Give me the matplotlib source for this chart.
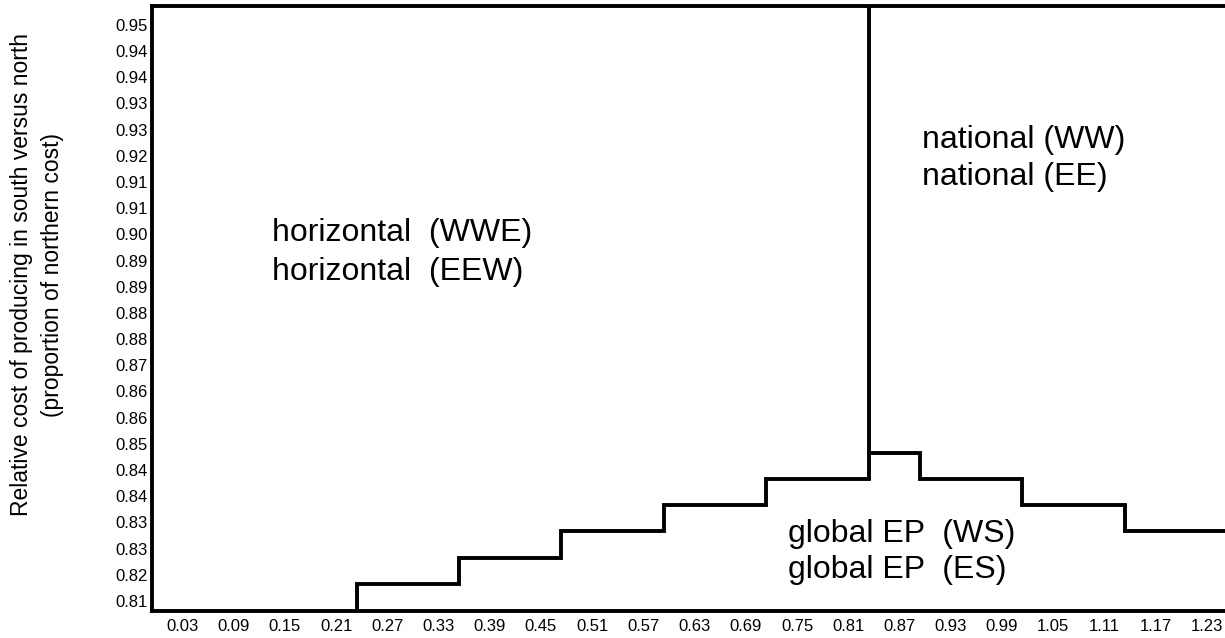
import numpy as np
import matplotlib
matplotlib.use('Agg')
import matplotlib.pyplot as plt

plt.rcParams['font.family'] = ['Liberation Sans', 'DejaVu Sans']

# x axis: category centres
x_ticks = [0.03, 0.09, 0.15, 0.21, 0.27, 0.33, 0.39, 0.45, 0.51, 0.57, 0.63,
           0.69, 0.75, 0.81, 0.87, 0.93, 0.99, 1.05, 1.11, 1.17, 1.23]

# y axis: labels as printed (rounded to 2 dp)
y_ticks = np.linspace(0.8125, 0.95, 23)
y_labels = ['0.81', '0.82', '0.83', '0.83', '0.84', '0.84', '0.85', '0.86',
            '0.86', '0.87', '0.88', '0.88', '0.89', '0.89', '0.90', '0.91',
            '0.91', '0.92', '0.93', '0.93', '0.94', '0.94', '0.95']

# boundary between global EP region and the others
step_edges = [0.234, 0.354, 0.474, 0.594, 0.714, 0.834, 0.894, 1.014, 1.134, 1.26]
step_levels = [0.8166, 0.8228, 0.8291, 0.8353, 0.8416, 0.8479, 0.8416, 0.8353, 0.8291]

# boundary between horizontal and national
national_x = 0.834
national_from = 0.8479

fig = plt.figure(figsize=(12.25, 6.38), dpi=100)
ax = fig.add_axes([0.1241, 0.0428, 0.8759, 0.9478])

ax.set_xlim(-0.0057, 1.2514)
ax.set_ylim(0.81018, 0.9545)
ymin, ymax = ax.get_ylim()

ax.stairs(step_levels, step_edges, baseline=ymin, color='black', linewidth=2.8)
ax.plot([national_x, national_x], [national_from, ymax], color='black', linewidth=2.8,
        solid_capstyle='butt')

ax.set_xticks(x_ticks)
ax.set_xticklabels(['%.2f' % v for v in x_ticks])
ax.set_yticks(y_ticks)
ax.set_yticklabels(y_labels)
ax.tick_params(axis='both', length=0, labelsize=12)
ax.tick_params(axis='x', pad=6)
ax.tick_params(axis='y', pad=3)

for side in ['left', 'bottom', 'top']:
    ax.spines[side].set_linewidth(2.8)
ax.spines['right'].set_visible(False)

ax.text(0.1118, 0.593, 'horizontal  (WWE)\nhorizontal  (EEW)', transform=ax.transAxes,
        fontsize=23, ha='left', va='center', linespacing=1.4)
ax.text(0.7173, 0.7478, 'national (WW)\nnational (EE)', transform=ax.transAxes,
        fontsize=23, ha='left', va='center', linespacing=1.31)
ax.text(0.593, 0.0971, 'global EP  (WS)\nglobal EP  (ES)', transform=ax.transAxes,
        fontsize=23, ha='left', va='center', linespacing=1.28)

fig.text(0.0302, 0.569, 'Relative cost of producing in south versus north\n(proportion of northern cost)',
         rotation=90, ha='center', va='center', multialignment='center', fontsize=16.5,
         linespacing=1.39)

fig.savefig('out.png', dpi=100)
